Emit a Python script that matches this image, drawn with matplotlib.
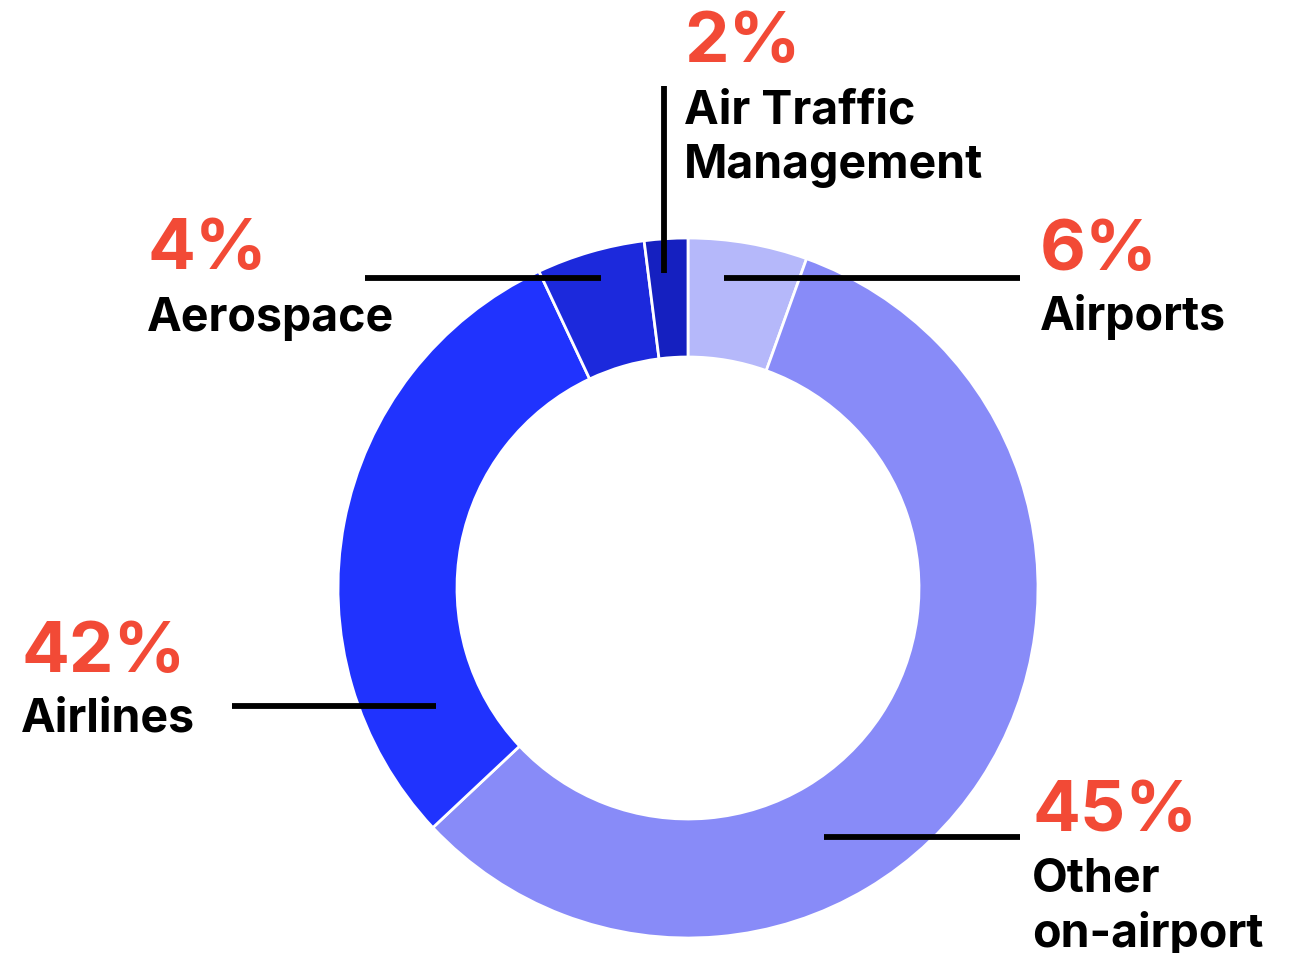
import matplotlib
matplotlib.use("Agg")
import matplotlib.pyplot as plt

# Data (slice sizes as drawn; labels as printed)
categories = ["Airports", "Other\non-airport", "Airlines", "Aerospace", "Air Traffic\nManagement"]
slice_values = [5.5, 57.5, 30.0, 5.0, 2.0]
pct_labels = ["6%", "45%", "42%", "4%", "2%"]
colors = ["#B5B8FA", "#888BF8", "#2033FE", "#1C29DC", "#1520C0"]

W, H = 1294, 954
fig = plt.figure(figsize=(W / 100, H / 100), dpi=100)
ax = fig.add_axes([0, 0, 1, 1])

def Y(y):
    return H - y

cx, cy, R, r_in = 688, 589, 350, 231
ax.pie(slice_values, colors=colors, startangle=90, counterclock=False,
       center=(cx, Y(cy)), radius=R, frame=True,
       wedgeprops=dict(width=R - r_in, edgecolor="white", linewidth=2))
ax.set_xlim(0, W)
ax.set_ylim(0, H)
ax.set_aspect("equal")
ax.axis("off")

lw = 4.2
# leader lines
ax.plot([664, 664], [Y(87), Y(274)], color="black", lw=lw, solid_capstyle="butt")
ax.plot([365, 601], [Y(279), Y(279)], color="black", lw=lw, solid_capstyle="butt")
ax.plot([724, 1020], [Y(279), Y(279)], color="black", lw=lw, solid_capstyle="butt")
ax.plot([232, 436], [Y(707), Y(707)], color="black", lw=lw, solid_capstyle="butt")
ax.plot([824, 1020], [Y(838), Y(838)], color="black", lw=lw, solid_capstyle="butt")

red = "#F24A36"
fam = ["Inter", "DejaVu Sans"]
pct_size = 51
lab_size = 33.5

# (x, pct baseline, label baseline)
label_pos = [
    (1040, 270, 330),   # Airports
    (1032, 831, 892),   # Other on-airport
    (21, 672, 732),     # Airlines
    (147, 269, 331),    # Aerospace
    (684, 62, 123),     # ATM
]
for (x, yp, yl), pct, cat in zip(label_pos, pct_labels, categories):
    ax.text(x, Y(yp), pct, color=red, fontsize=pct_size, fontweight="bold",
            family=fam, ha="left", va="baseline")
    lines = cat.split("\n")
    for i, ln in enumerate(lines):
        ax.text(x, Y(yl + 55 * i), ln, color="black", fontsize=lab_size,
                fontweight="bold", family=fam, ha="left", va="baseline")

fig.savefig("out.png", dpi=100)
